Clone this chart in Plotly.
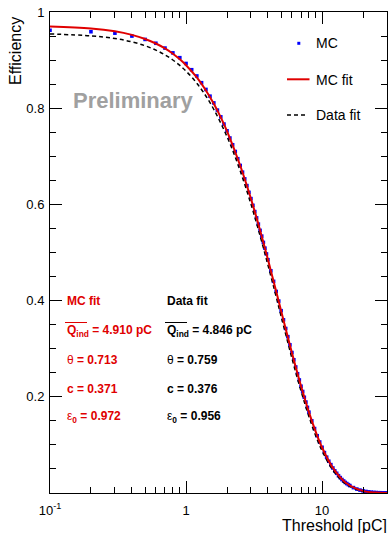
import plotly.graph_objects as go

# ---------------- data ----------------
mc_x = [0.1, 0.2, 0.3, 0.4, 0.5, 0.6, 0.7, 0.8, 0.9, 1.0,
        1.1, 1.2, 1.3, 1.4, 1.5, 1.6, 1.7, 1.8, 1.9, 2.0,
        2.1, 2.2, 2.3, 2.4, 2.5, 2.6, 2.7, 2.8, 2.9, 3.0,
        3.1, 3.2, 3.3, 3.4, 3.5, 3.6, 3.7, 3.8, 3.9, 4.0,
        4.2, 4.4, 4.6, 4.8, 5.0, 5.2, 5.4, 5.6, 5.8, 6.0,
        6.2, 6.4, 6.6, 6.8, 7.0, 7.2, 7.4, 7.6, 7.8, 8.0,
        8.4, 8.8, 9.2, 9.6, 10.0, 10.4, 10.8, 11.2, 11.6, 12.0,
        12.4, 12.8, 13.2, 13.6, 14.0, 14.4, 14.8, 15.2, 15.6, 16.0,
        17, 18, 19, 20, 21, 22, 23, 24, 25, 26, 27, 28, 29, 30]
mc_eff = [0.962, 0.959, 0.956, 0.950, 0.943, 0.935, 0.925, 0.915, 0.905, 0.893,
          0.880, 0.867, 0.853, 0.839, 0.825, 0.811, 0.796, 0.782, 0.767, 0.753,
          0.738, 0.724, 0.710, 0.695, 0.681, 0.667, 0.653, 0.639, 0.625, 0.612,
          0.598, 0.585, 0.572, 0.559, 0.546, 0.534, 0.521, 0.509, 0.497, 0.485,
          0.462, 0.440, 0.419, 0.399, 0.379, 0.360, 0.342, 0.325, 0.308, 0.292,
          0.277, 0.262, 0.248, 0.235, 0.222, 0.211, 0.199, 0.189, 0.178, 0.168,
          0.150, 0.134, 0.119, 0.106, 0.095, 0.084, 0.0745, 0.066, 0.059, 0.052,
          0.046, 0.041, 0.036, 0.032, 0.028, 0.025, 0.022, 0.0196, 0.0174, 0.0154,
          0.0112, 0.0082, 0.0060, 0.0044, 0.0032, 0.0023, 0.0017, 0.0012, 0.0009,
          0.0006, 0.0005, 0.0003, 0.0002, 0.0002]

mcfit_x = [0.1, 0.2, 0.3, 0.4, 0.5, 0.6, 0.7, 0.8, 0.9, 1.0, 1.2, 1.4, 1.6, 1.8,
           2.0, 2.5, 3.0, 3.5, 4.0, 4.5, 5.0, 6, 7, 8, 9, 10, 12, 15, 20, 25, 30]
mcfit_eff = [0.9701, 0.9658, 0.9598, 0.9524, 0.9440, 0.9345, 0.9242, 0.9132, 0.9016,
             0.8894, 0.8639, 0.8369, 0.8091, 0.7808, 0.7522, 0.6809, 0.6118, 0.5464,
             0.4854, 0.4295, 0.3786, 0.2916, 0.2223, 0.1682, 0.1265, 0.0946, 0.0522,
             0.0209, 0.0044, 0.0009, 0.0002]

datafit_x = [0.1, 0.2, 0.3, 0.4, 0.5, 0.6, 0.7, 0.8, 0.9, 1.0, 1.2, 1.5, 2.0, 2.5,
             3.0, 3.5, 4.0, 4.5, 5.0, 6, 7, 8, 9, 10, 12, 15, 20, 25, 30]
datafit_eff = [0.9543, 0.9504, 0.9449, 0.9379, 0.9299, 0.9208, 0.9109, 0.9002, 0.8889,
               0.8770, 0.8518, 0.8116, 0.7410, 0.6698, 0.6006, 0.5350, 0.4740, 0.4185,
               0.3672, 0.2805, 0.2121, 0.1591, 0.1181, 0.0877, 0.0475, 0.0184, 0.0036,
               0.0007, 0.0001]

mc_params = ["4.910 pC", "0.713", "0.371", "0.972"]
data_params = ["4.846 pC", "0.759", "0.376", "0.956"]

x_tickvals = [0.1, 1, 10]
x_ticktext = ["10<sup>-1</sup>", "1", "10"]
y_tickvals = [0.2, 0.4, 0.6, 0.8, 1.0]
y_ticktext = ["0.2", "0.4", "0.6", "0.8", "1"]
x_minor = [0.2, 0.3, 0.4, 0.5, 0.6, 0.7, 0.8, 0.9, 2, 3, 4, 5, 6, 7, 8, 9, 20]
y_minor = [0.05, 0.1, 0.15, 0.25, 0.3, 0.35, 0.45, 0.5, 0.55, 0.65, 0.7, 0.75, 0.85, 0.9, 0.95]

# ---------------- styling ----------------
RED = "#e00000"
BLUE = "#0000ff"
FONT = "Liberation Sans, Arial, Helvetica, sans-serif"
W, H = 389, 533
L, R, T, B = 50, 387, 12, 493


def px(x):
    return (x - L) / (R - L)


def py(y):
    return (B - y) / (B - T)


fig = go.Figure()
fig.add_trace(go.Scatter(x=mc_x, y=mc_eff, mode="markers",
                         marker=dict(symbol="square", size=3.6, color=BLUE, line=dict(width=0)),
                         name="MC", showlegend=False))
fig.add_trace(go.Scatter(x=datafit_x, y=datafit_eff, mode="lines",
                         line=dict(color="black", width=1.5, dash="4px,3px", shape="spline"),
                         name="Data fit", showlegend=False))
fig.add_trace(go.Scatter(x=mcfit_x, y=mcfit_eff, mode="lines",
                         line=dict(color=RED, width=2, shape="spline"),
                         name="MC fit", showlegend=False))

fig.update_xaxes(type="log", range=[-1, 1.4771], showgrid=False, zeroline=False,
                 showline=True, linecolor="black", linewidth=1, mirror="ticks",
                 ticks="inside", ticklen=12, tickcolor="black", tickwidth=1,
                 tickmode="array", tickvals=x_tickvals, ticktext=x_ticktext,
                 tickfont=dict(family=FONT, size=13, color="black"),
                 ticklabelstandoff=5,
                 minor=dict(tickmode="array", tickvals=x_minor, ticks="inside",
                            ticklen=6, tickcolor="black", tickwidth=1, showgrid=False))
fig.update_yaxes(range=[0, 1], showgrid=False, zeroline=False,
                 showline=True, linecolor="black", linewidth=1, mirror="ticks",
                 ticks="inside", ticklen=12, tickcolor="black", tickwidth=1,
                 tickmode="array", tickvals=y_tickvals, ticktext=y_ticktext,
                 tickfont=dict(family=FONT, size=13, color="black"),
                 ticklabelstandoff=2,
                 minor=dict(tickmode="array", tickvals=y_minor, ticks="inside",
                            ticklen=6, tickcolor="black", tickwidth=1, showgrid=False))

ann = []
shapes = []
ann.append(dict(x=px(16), y=py(15), xref="paper", yref="paper", text="Efficiency",
                textangle=-90, showarrow=False, xanchor="center", yanchor="top",
                font=dict(family=FONT, size=16, color="black")))
ann.append(dict(x=px(388.5), y=py(525), xref="paper", yref="paper", text="Threshold [pC]",
                showarrow=False, xanchor="right", yanchor="middle",
                font=dict(family=FONT, size=16, color="black")))
ann.append(dict(x=px(71), y=py(100), xref="paper", yref="paper", text="<b>Preliminary</b>",
                showarrow=False, xanchor="left", yanchor="middle",
                font=dict(family=FONT, size=22, color="#a0a0a0")))
leg_font = dict(family=FONT, size=14, color="black")
for text, yy in [("MC", 43.3), ("MC fit", 80), ("Data fit", 115)]:
    ann.append(dict(x=px(314), y=py(yy), xref="paper", yref="paper", text=text,
                    showarrow=False, xanchor="left", yanchor="middle", font=leg_font))
shapes.append(dict(type="rect", xref="paper", yref="paper", x0=px(297.3), x1=px(300.3),
                   y0=py(44.8), y1=py(41.8), fillcolor=BLUE, line=dict(width=0)))
shapes.append(dict(type="line", xref="paper", yref="paper", x0=px(287), x1=px(309.5),
                   y0=py(79.3), y1=py(79.3), line=dict(color=RED, width=2)))
shapes.append(dict(type="line", xref="paper", yref="paper", x0=px(287), x1=px(307),
                   y0=py(115), y1=py(115), line=dict(color="black", width=1.5, dash="4px,3px")))


def block(x0, title, vals, color):
    f = dict(family=FONT, size=12, color=color)
    rows = [
        (301, "<b>%s</b>" % title),
        (331, "<b>Q<sub>ind</sub> = %s</b>" % vals[0]),
        (360, "θ<b> = %s</b>" % vals[1]),
        (389, "<b>c = %s</b>" % vals[2]),
        (417, "ε<sub><b>0</b></sub><b> = %s</b>" % vals[3]),
    ]
    for yy, t in rows:
        ann.append(dict(x=px(x0), y=py(yy), xref="paper", yref="paper", text=t,
                        showarrow=False, xanchor="left", yanchor="middle", font=f))
    shapes.append(dict(type="line", xref="paper", yref="paper", x0=px(x0), x1=px(x0 + 22),
                       y0=py(322.5), y1=py(322.5), line=dict(color=color, width=1)))


block(65, "MC fit", mc_params, RED)
block(165, "Data fit", data_params, "black")

fig.update_layout(width=W, height=H, margin=dict(l=L, r=W - R, t=T, b=H - B),
                  plot_bgcolor="white", paper_bgcolor="white", showlegend=False,
                  annotations=ann, shapes=shapes)

fig.write_html("out.html", config={"displayModeBar": False},
               post_script="document.body.style.margin='0px';")
